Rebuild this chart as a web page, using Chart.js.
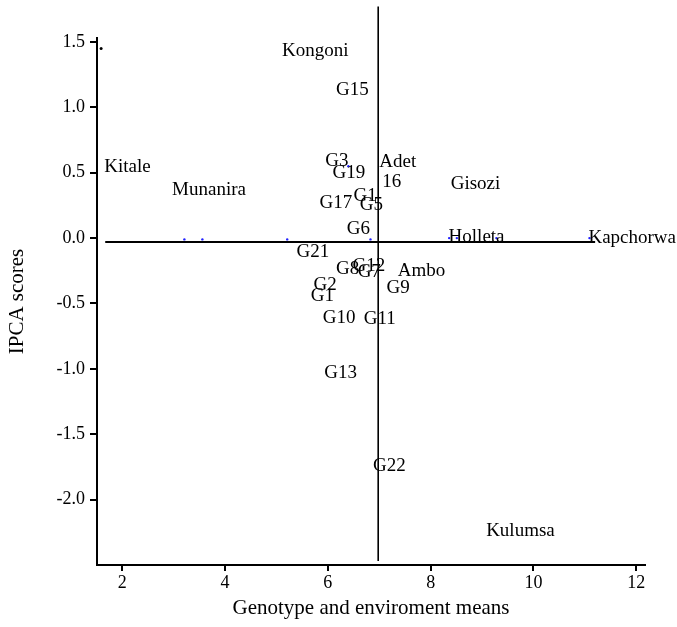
<!DOCTYPE html>
<html>
<head>
<meta charset="utf-8">
<script src="https://cdn.jsdelivr.net/npm/chart.js@4"></script>
<style>
  html, body { margin: 0; padding: 0; background: #fff; }
  canvas { display: block; }
</style>
</head>
<body>
<canvas id="biplot" width="677" height="627"></canvas>
<script>
// tick labels
const xTicks = [2, 4, 6, 8, 10, 12];
const yTicks = [1.5, 1.0, 0.5, 0.0, -0.5, -1.0, -1.5, -2.0];

// genotype / environment labels (mean, IPCA score)
const labelNames = ['Kongoni', 'G15', 'Kitale', 'Munanira', 'G3', 'G19', 'Adet', '16', 'Gisozi',
  'G1', 'G17', 'G5', 'G6', 'Holleta', 'Kapchorwa', 'G21', 'G8', 'G12', 'G7', 'Ambo', 'G9',
  'G2', 'G1', 'G10', 'G11', 'G13', 'G22', 'Kulumsa'];
const labelX = [5.11, 6.16, 1.65, 2.97, 5.95, 6.09, 7.00, 7.06, 8.39,
  6.50, 5.84, 6.62, 6.37, 8.35, 11.07, 5.39, 6.16, 6.48, 6.58, 7.36, 7.14,
  5.72, 5.67, 5.90, 6.70, 5.93, 6.88, 9.08];
const labelY = [1.43, 1.13, 0.54, 0.37, 0.59, 0.50, 0.58, 0.43, 0.41,
  0.32, 0.27, 0.25, 0.07, 0.01, 0.00, -0.11, -0.24, -0.21, -0.26, -0.25, -0.38,
  -0.36, -0.44, -0.61, -0.62, -1.03, -1.74, -2.24];

// small blue markers
const dotX = [3.21, 3.56, 5.21, 6.83, 6.40, 8.36, 8.51, 9.28, 11.09];
const dotY = [-0.01, -0.01, -0.01, -0.01, 0.55, 0.0, 0.0, 0.0, 0.0];

// reference lines (grand mean and zero IPCA)
const hLineX = [1.67, 11.2];
const hLineY = -0.03;
const vLineX = 6.98;
const vLineY = [1.77, -2.47];

const stray = { x: 1.59, y: 1.45 };

const serif = "'Liberation Serif', 'Times New Roman', serif";

const pointLabels = {
  id: 'pointLabels',
  afterDatasetsDraw(chart) {
    const { ctx, scales } = chart;
    ctx.save();
    ctx.font = '19px ' + serif;
    ctx.fillStyle = '#000';
    ctx.textAlign = 'left';
    ctx.textBaseline = 'middle';
    labelNames.forEach((name, i) => {
      ctx.fillText(name, scales.x.getPixelForValue(labelX[i]), scales.y.getPixelForValue(labelY[i]));
    });
    ctx.restore();
  }
};

const ctx = document.getElementById('biplot').getContext('2d');

new Chart(ctx, {
  type: 'scatter',
  data: {
    datasets: [
      {
        type: 'line',
        data: hLineX.map(x => ({ x, y: hLineY })),
        borderColor: '#000',
        borderWidth: 2,
        pointRadius: 0
      },
      {
        type: 'line',
        data: vLineY.map(y => ({ x: vLineX, y })),
        borderColor: '#000',
        borderWidth: 1.6,
        pointRadius: 0,
        clip: false
      },
      {
        data: dotX.map((x, i) => ({ x, y: dotY[i] })),
        backgroundColor: '#2020ff',
        borderWidth: 0,
        pointRadius: 1.2
      },
      {
        data: [stray],
        backgroundColor: '#000',
        borderWidth: 0,
        pointRadius: 1.5
      }
    ]
  },
  options: {
    responsive: false,
    animation: false,
    devicePixelRatio: 1,
    layout: { padding: { top: 38, right: 32, bottom: 0, left: 0 } },
    plugins: {
      legend: { display: false },
      tooltip: { enabled: false }
    },
    scales: {
      x: {
        type: 'linear',
        min: 1.51,
        max: 12.17,
        afterBuildTicks: scale => { scale.ticks = xTicks.map(v => ({ value: v })); },
        afterFit: scale => { scale.height = 62; },
        border: { display: true, color: '#000', width: 2 },
        grid: { drawOnChartArea: false, drawTicks: true, color: '#000', lineWidth: 2, tickLength: 6 },
        ticks: {
          color: '#000',
          padding: 1,
          font: { family: serif, size: 18 },
          callback: v => String(v)
        },
        title: {
          display: true,
          text: 'Genotype and enviroment means',
          color: '#000',
          font: { family: serif, size: 21 },
          padding: { top: 0, bottom: 6 }
        }
      },
      y: {
        type: 'linear',
        min: -2.5,
        max: 1.53,
        afterBuildTicks: scale => { scale.ticks = yTicks.map(v => ({ value: v })); },
        afterFit: scale => { scale.width = 97; },
        border: { display: true, color: '#000', width: 2 },
        grid: { drawOnChartArea: false, drawTicks: true, color: '#000', lineWidth: 2, tickLength: 7 },
        ticks: {
          color: '#000',
          padding: 5,
          font: { family: serif, size: 18 },
          callback: v => v.toFixed(1)
        },
        title: {
          display: true,
          text: 'IPCA scores',
          color: '#000',
          font: { family: serif, size: 21 },
          padding: { top: 5, bottom: 0 }
        }
      }
    }
  },
  plugins: [pointLabels]
});
</script>
</body>
</html>
